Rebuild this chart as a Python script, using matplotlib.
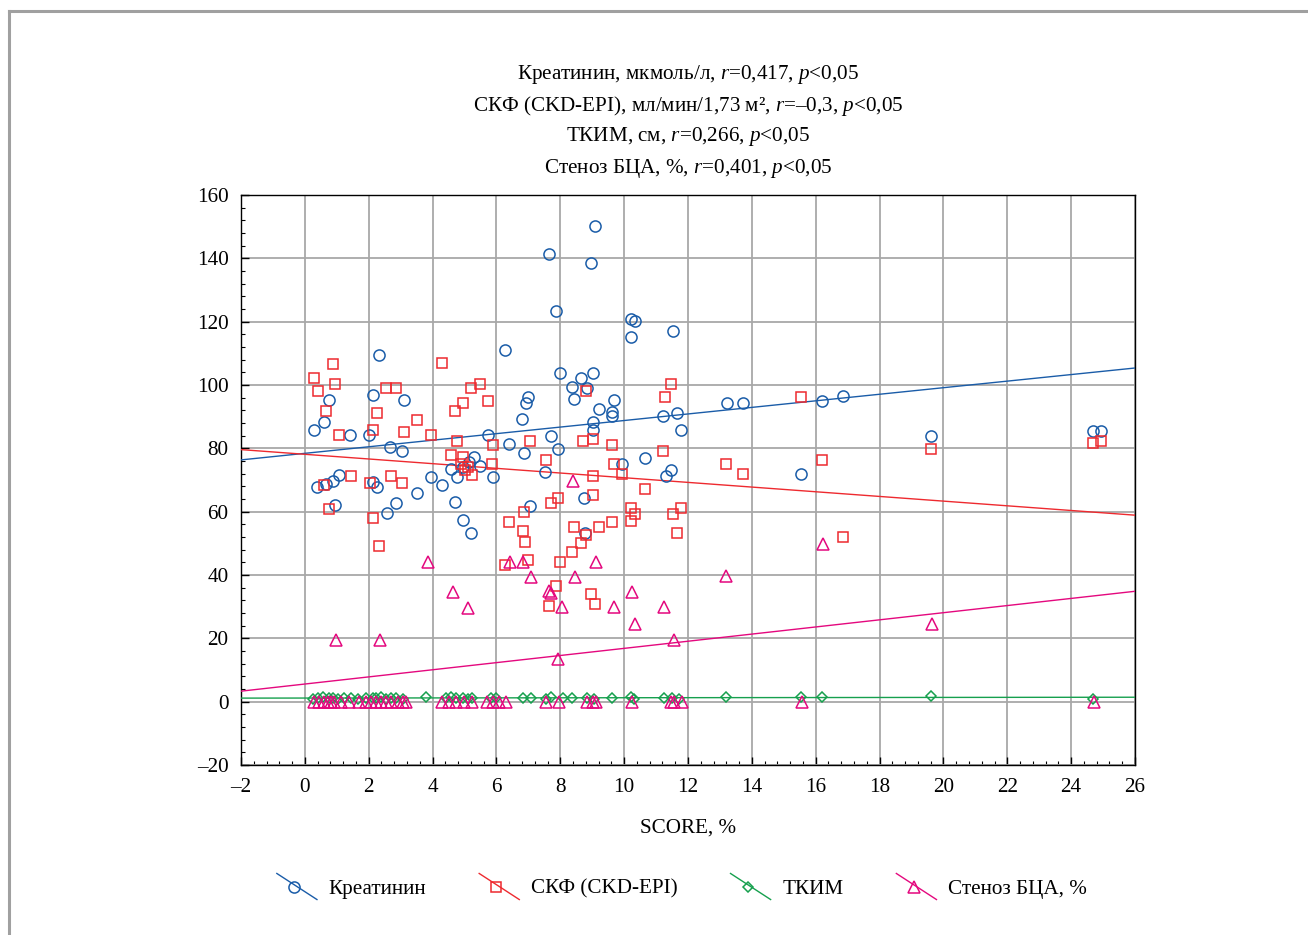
import numpy as np
import matplotlib
matplotlib.use('Agg')
import matplotlib.pyplot as plt
from matplotlib.lines import Line2D
from matplotlib.legend_handler import HandlerBase
from matplotlib.ticker import MultipleLocator, FuncFormatter

plt.rcParams['font.family'] = ['Liberation Serif', 'DejaVu Serif']
plt.rcParams['mathtext.fontset'] = 'custom'
plt.rcParams['mathtext.rm'] = 'Liberation Serif'
plt.rcParams['mathtext.it'] = 'Liberation Serif:italic'

# ---------------- data ----------------
creat_x = [0.30, 0.59, 0.77, 0.39, 0.66, 0.89, 1.06, 0.93, 1.42, 2.02, 2.14, 2.33, 2.14, 2.26,
           2.68, 3.03, 3.09, 2.85, 2.56, 3.52, 3.95, 4.31, 4.58, 4.78, 4.94, 5.15, 5.30, 5.48,
           5.88, 4.70, 4.96, 5.19, 5.73, 6.39, 6.27, 6.80, 6.85, 7.00, 6.93, 7.05, 7.53, 7.64,
           7.70, 7.88, 7.94, 8.00, 8.36, 8.44, 8.66, 8.73, 8.78, 8.84, 8.96, 9.02, 9.08, 9.02,
           9.03, 9.20, 9.62, 9.62, 9.68, 9.92, 10.22, 10.33, 10.22, 10.64, 11.23, 11.31, 11.48,
           11.52, 11.66, 11.77, 13.21, 13.73, 15.54, 16.19, 16.86, 19.62, 24.67, 24.95]
creat_y = [85.9, 88.3, 95.4, 67.7, 68.7, 69.8, 71.7, 62.2, 84.1, 84.1, 96.7, 109.4, 69.4, 67.8,
           80.5, 79.2, 95.4, 62.8, 59.7, 65.8, 71.1, 68.4, 73.6, 70.8, 74.1, 75.7, 77.3, 74.4,
           70.8, 63.0, 57.4, 53.3, 84.2, 81.5, 111.2, 89.4, 78.6, 96.2, 94.4, 61.7, 72.6, 141.3,
           83.9, 123.3, 79.7, 103.8, 99.3, 95.5, 102.2, 64.2, 53.4, 99.0, 138.4, 103.8, 150.3, 88.4,
           85.7, 92.4, 91.5, 90.3, 95.4, 74.9, 121.0, 120.2, 115.3, 76.8, 90.1, 71.3, 73.3,
           117.2, 91.3, 85.7, 94.3, 94.3, 72.0, 94.9, 96.6, 83.8, 85.4, 85.4]

gfr_x = [0.88, 0.30, 0.94, 0.41, 0.65, 1.08, 2.27, 2.14, 2.55, 2.85, 3.10, 3.52, 3.94, 4.29,
         5.19, 5.48, 4.96, 4.71, 5.73, 4.77, 5.88, 7.04, 4.58, 4.94, 4.89, 5.10, 5.00, 5.25,
         5.85, 0.61, 1.43, 2.03, 2.69, 3.04, 0.77, 2.14, 2.33, 6.40, 6.82, 6.90, 6.86, 11.47,
         11.29, 8.79, 8.72, 9.03, 9.62, 11.23, 13.20, 13.73, 7.54, 9.69, 9.02, 9.92, 10.64,
         9.02, 7.70, 7.94, 7.00, 6.27, 8.42, 8.80, 8.66, 8.36, 8.00, 9.20, 9.62, 10.23, 10.33,
         10.23, 11.77, 11.53, 11.66, 7.88, 7.64, 8.97, 9.08, 15.54, 16.20, 16.85, 19.62,
         24.69, 24.95]
gfr_y = [106.5, 102.1, 100.3, 98.0, 91.8, 84.1, 91.2, 85.9, 99.2, 99.2, 85.2, 88.9, 84.1, 107.0,
         99.2, 100.3, 94.3, 91.8, 94.9, 82.3, 81.2, 82.3, 77.8, 77.3, 75.2, 74.1, 73.1, 71.5,
         75.0, 68.4, 71.3, 68.9, 71.3, 68.9, 61.0, 58.0, 49.1, 56.8, 53.9, 50.3, 59.9, 100.3,
         96.1, 98.0, 82.3, 82.8, 81.0, 79.2, 75.0, 71.9, 76.3, 75.0, 71.3, 72.0, 67.1,
         65.2, 62.8, 64.2, 44.7, 43.1, 55.2, 52.6, 50.2, 47.3, 44.1, 55.2, 56.8, 61.3, 59.3,
         57.0, 61.3, 59.3, 53.3, 36.5, 30.3, 33.9, 31.0, 96.1, 76.2, 52.0, 79.7,
         81.8, 82.2]

tkim_x = [0.24, 0.40, 0.56, 0.77, 0.87, 1.03, 1.24, 1.45, 1.65, 1.92, 2.12, 2.23, 2.39, 2.54,
          2.70, 2.85, 3.06, 3.79, 4.42, 4.58, 4.73, 4.94, 5.10, 5.25, 5.83, 5.98, 6.82, 7.08,
          7.55, 7.71, 8.07, 8.38, 8.85, 9.06, 9.63, 10.21, 10.31, 11.25, 11.50, 11.72, 13.20,
          15.53, 16.19, 19.61, 24.69]
tkim_y = [1.0, 1.2, 1.4, 1.1, 1.3, 1.0, 1.2, 1.1, 1.0, 1.2, 1.3, 1.1, 1.4, 1.0,
          1.2, 1.1, 1.0, 1.5, 1.2, 1.4, 1.1, 1.3, 1.0, 1.2, 1.1, 1.3, 1.2, 1.1,
          1.0, 1.4, 1.2, 1.3, 1.1, 1.0, 1.2, 1.4, 1.0, 1.3, 1.1, 1.0, 1.5,
          1.5, 1.5, 1.8, 1.0]

sten_x = [3.86, 4.63, 5.10, 0.98, 2.35, 6.41, 6.83, 7.08, 7.65, 7.72, 8.04, 7.92, 8.46, 8.40,
          9.11, 9.67, 10.26, 10.35, 11.26, 11.57, 13.20, 16.23, 19.65,
          0.30, 0.45, 0.61, 0.71, 0.82, 0.92, 1.13, 1.39, 1.71, 1.92, 2.07, 2.23, 2.39, 2.54,
          2.70, 2.91, 3.06, 3.17, 4.31, 4.52, 4.73, 4.99, 5.25, 5.72, 5.88, 6.09, 6.30, 7.55,
          7.97, 8.85, 9.01, 9.11, 10.26, 11.46, 11.57, 11.82, 15.56, 24.71]
sten_y = [44.1, 34.7, 29.7, 19.6, 19.6, 44.2, 44.2, 39.4, 35.0, 34.2, 29.9, 13.6, 39.5, 69.7,
          44.2, 29.9, 34.7, 24.6, 29.9, 19.6, 39.6, 49.7, 24.5,
          0, 0, 0, 0, 0, 0, 0, 0, 0, 0, 0, 0, 0, 0,
          0, 0, 0, 0, 0, 0, 0, 0, 0, 0, 0, 0, 0, 0,
          0, 0, 0, 0, 0, 0, 0, 0, 0, 0]

title_lines = [
    'Креатинин, мкмоль/л, $r$=0,417, $p$<0,05',
    'СКФ (CKD-EPI), мл/мин/1,73 м², $r$=–0,3, $p$<0,05',
    'ТКИМ, см, $r$=0,266, $p$<0,05',
    'Стеноз БЦА, %, $r$=0,401, $p$<0,05',
]
legend_labels = ['Креатинин', 'СКФ (CKD-EPI)', 'ТКИМ', 'Стеноз БЦА, %']
x_label = 'SCORE, %'

colors = ['#1a5ca8', '#ee2a2f', '#16a04e', '#e4087e']
markers = ['o', 's', 'D', '^']
msizes = [8.0, 7.2, 5.0, 8.0]

series = [(creat_x, creat_y), (gfr_x, gfr_y), (tkim_x, tkim_y), (sten_x, sten_y)]

FS = 15.2

# ---------------- figure ----------------
W, H = 1308, 935
fig = plt.figure(figsize=(W / 100, H / 100), dpi=100)
ax = fig.add_axes([241 / W, 1 - 765 / H, (1135 - 241) / W, (765 - 195) / H])

xlim = (-2, 26)
ax.set_xlim(*xlim)
ax.set_ylim(-20, 160)

for (xs, ys), c, m, ms in zip(series, colors, markers, msizes):
    xs = np.asarray(xs, float)
    ys = np.asarray(ys, float)
    k, b = np.polyfit(xs, ys, 1)
    xx = np.array(xlim, float)
    ax.plot(xx, k * xx + b, color=c, lw=1.0, zorder=3)
    ax.plot(xs, ys, linestyle='none', marker=m, ms=ms, mfc='none', mec=c, mew=1.1,
            zorder=4, clip_on=False)

ax.xaxis.set_major_locator(MultipleLocator(2))
ax.yaxis.set_major_locator(MultipleLocator(20))
ax.xaxis.set_minor_locator(MultipleLocator(0.4))
ax.yaxis.set_minor_locator(MultipleLocator(4))
fmt = FuncFormatter(lambda v, p: ('%d' % round(v)).replace('-', '–'))
ax.xaxis.set_major_formatter(fmt)
ax.yaxis.set_major_formatter(fmt)
ax.tick_params(which='major', direction='in', length=6, width=1, labelsize=FS, pad=9)
ax.tick_params(which='minor', direction='in', length=3, width=0.8)
ax.grid(True, which='major', color='#a8a8a8', lw=1.3, zorder=0)
ax.set_axisbelow(True)
for s in ax.spines.values():
    s.set_linewidth(1.0)
    s.set_color('black')

ax.set_xlabel(x_label, fontsize=FS, labelpad=16)

# title lines
for i, t in enumerate(title_lines):
    fig.text(688 / W, 1 - (75 + 31 * i) / H, t, ha='center', va='center', fontsize=FS)

# figure frame (top and left gray rules)
fig.add_artist(Line2D([9 / W, 1], [1 - 11 / H, 1 - 11 / H], transform=fig.transFigure,
                      color='#a0a0a0', lw=2.2))
fig.add_artist(Line2D([9 / W, 9 / W], [0, 1 - 11 / H], transform=fig.transFigure,
                      color='#a0a0a0', lw=2.2))


class DiagHandler(HandlerBase):
    def create_artists(self, legend, orig_handle, xdescent, ydescent, width, height,
                       fontsize, trans):
        x0 = -xdescent
        x1 = -xdescent + width
        yc = -ydescent + height / 2
        dy = width * 0.65
        line = Line2D([x0, x1], [yc + dy / 2, yc - dy / 2], color=orig_handle.get_color(),
                      lw=1.0, transform=trans)
        mk = Line2D([(x0 + x1) / 2 - 2], [yc], marker=orig_handle.get_marker(),
                    ms=orig_handle.get_markersize(), mfc='none',
                    mec=orig_handle.get_color(), mew=1.1, linestyle='none', transform=trans)
        return [line, mk]


handles = [Line2D([], [], color=c, marker=m, ms=ms) for c, m, ms in zip(colors, markers, msizes)]
fig.legend(handles, legend_labels, loc='center', bbox_to_anchor=(682 / W, 1 - 889 / H),
           ncol=4, frameon=False, handler_map={Line2D: DiagHandler()},
           handlelength=1.9, handletextpad=0.56, columnspacing=2.5, fontsize=FS)

fig.savefig('out.png', dpi=100)
